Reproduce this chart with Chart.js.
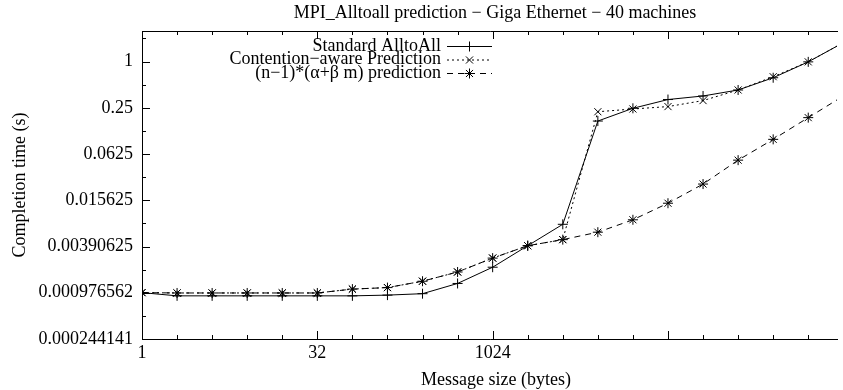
<!DOCTYPE html>
<html>
<head>
<meta charset="utf-8">
<script src="https://cdn.jsdelivr.net/npm/chart.js@4"></script>
<style>
  body { margin: 0; background: #fff; }
  canvas { display: block; }
</style>
</head>
<body>
<canvas id="chart" width="843" height="390"></canvas>
<script>
// ===================== DATA =====================
const sizes = [1, 2, 4, 8, 16, 32, 64, 128, 256, 512, 1024, 2048, 4096, 8192,
  16384, 32768, 65536, 131072, 262144, 524288, 1048576];

const standard = [0.00098, 0.00089, 0.00089, 0.00089, 0.00089, 0.00089, 0.00089,
  0.00091, 0.00095, 0.00129, 0.0021, 0.004, 0.0076, 0.168, 0.246, 0.32, 0.356,
  0.426, 0.615, 0.99, 1.76];

const contention = [0.00098, 0.00097, 0.00097, 0.00097, 0.00097, 0.00097, 0.00109,
  0.00114, 0.00138, 0.00182, 0.00276, 0.004, 0.0048, 0.222, 0.241, 0.259, 0.31,
  0.426, 0.634, 0.99, 1.76];

const prediction = [0.00098, 0.00097, 0.00097, 0.00097, 0.00097, 0.00097, 0.00109,
  0.00114, 0.00138, 0.00182, 0.00276, 0.004, 0.0048, 0.006, 0.0087, 0.0143, 0.0254,
  0.052, 0.097, 0.186, 0.356];

const seriesNames = ["Standard AlltoAll", "Contention\u2212aware Prediction",
  "(n\u22121)*(\u03b1+\u03b2 m) prediction"];

const xTicks = [1, 32, 1024];
const xTickLabels = ["1", "32", "1024"];
const yTicks = [0.000244140625, 0.0009765625, 0.00390625, 0.015625, 0.0625, 0.25, 1];
const yTickLabels = ["0.000244141", "0.000976562", "0.00390625", "0.015625",
  "0.0625", "0.25", "1"];

const TITLE = "MPI_Alltoall prediction \u2212 Giga Ethernet \u2212 40 machines";
const X_TITLE = "Message size (bytes)";
const Y_TITLE = "Completion time (s)";

const FONT = "Liberation Serif, DejaVu Serif, serif";

// ===================== HELPERS =====================
function toPoints(values) {
  return sizes.map((s, i) => ({ x: s, y: values[i] }));
}

// frame, inward ticks, title, axis titles and gnuplot-style legend
const decorations = {
  id: "decorations",
  afterDraw(chart) {
    const { ctx, chartArea: a, scales } = chart;
    const xs = scales.x, ys = scales.y;
    ctx.save();
    ctx.strokeStyle = "#000";
    ctx.lineWidth = 1;
    ctx.setLineDash([]);

    // frame (right side is cut off in the reference)
    ctx.beginPath();
    ctx.moveTo(a.right + 1, a.top + 0.5);
    ctx.lineTo(a.left + 0.5, a.top + 0.5);
    ctx.lineTo(a.left + 0.5, a.bottom + 0.5);
    ctx.lineTo(a.right + 1, a.bottom + 0.5);
    ctx.stroke();

    // x ticks at each doubling, major every 32x
    ctx.beginPath();
    for (let e = 0; e <= 20; e++) {
      const px = Math.round(xs.getPixelForValue(Math.pow(2, e))) + 0.5;
      if (px > a.right + 1) break;
      const len = e % 5 === 0 ? 8 : 4;
      ctx.moveTo(px, a.bottom);
      ctx.lineTo(px, a.bottom - len);
      ctx.moveTo(px, a.top);
      ctx.lineTo(px, a.top + len);
    }
    // y ticks at each doubling, major every 4x
    for (let e = -12; e <= 1; e++) {
      const py = Math.round(ys.getPixelForValue(Math.pow(2, e))) + 0.5;
      const len = e % 2 === 0 ? 8 : 4;
      ctx.moveTo(a.left, py);
      ctx.lineTo(a.left + len, py);
    }
    ctx.stroke();

    // titles
    ctx.fillStyle = "#000";
    ctx.font = "18px " + FONT;
    ctx.textAlign = "center";
    ctx.textBaseline = "middle";
    ctx.fillText(TITLE, 495, 13);
    ctx.fillText(X_TITLE, 496, 380);
    ctx.save();
    ctx.translate(20, (a.top + a.bottom) / 2);
    ctx.rotate(-Math.PI / 2);
    ctx.fillText(Y_TITLE, 0, 0);
    ctx.restore();

    // legend
    const rowY = [46, 59.5, 73];
    const sampleL = 447, sampleR = 492, textR = 441;
    chart.data.datasets.forEach((ds, i) => {
      const y = rowY[i];
      ctx.textAlign = "right";
      ctx.fillText(seriesNames[i], textR, y);
      ctx.beginPath();
      ctx.setLineDash(ds.borderDash || []);
      ctx.moveTo(sampleL, y + 0.5);
      ctx.lineTo(sampleR, y + 0.5);
      ctx.stroke();
      ctx.setLineDash([]);
      Chart.helpers.drawPoint(ctx, {
        pointStyle: ds.pointStyle,
        radius: ds.pointRadius,
        borderWidth: 1
      }, (sampleL + sampleR) / 2, y + 0.5);
    });
    ctx.restore();
  }
};

// ===================== CHART =====================
const ctx = document.getElementById("chart").getContext("2d");

new Chart(ctx, {
  type: "line",
  data: {
    datasets: [
      {
        label: seriesNames[0],
        data: toPoints(standard),
        borderColor: "#000",
        backgroundColor: "#000",
        borderWidth: 1,
        pointStyle: "cross",
        pointRadius: 5,
        pointBorderWidth: 1
      },
      {
        label: seriesNames[1],
        data: toPoints(contention),
        borderColor: "#000",
        backgroundColor: "#000",
        borderWidth: 1,
        borderDash: [2, 3],
        pointStyle: "crossRot",
        pointRadius: 5,
        pointBorderWidth: 1
      },
      {
        label: seriesNames[2],
        data: toPoints(prediction),
        borderColor: "#000",
        backgroundColor: "#000",
        borderWidth: 1,
        borderDash: [6, 5],
        pointStyle: "star",
        pointRadius: 5,
        pointBorderWidth: 1
      }
    ]
  },
  options: {
    responsive: false,
    animation: false,
    devicePixelRatio: 1,
    layout: { padding: { top: 31, right: 0, left: 0, bottom: 0 } },
    plugins: {
      legend: { display: false },
      tooltip: { enabled: false },
      title: { display: false }
    },
    scales: {
      x: {
        type: "logarithmic",
        min: 1,
        max: 925600,
        grid: { display: false, drawTicks: false },
        border: { display: false },
        afterBuildTicks: s => { s.ticks = xTicks.map(v => ({ value: v })); },
        afterFit: s => { s.height = 51; },
        ticks: {
          autoSkip: false,
          maxRotation: 0,
          padding: 3,
          color: "#000",
          font: { family: FONT, size: 18 },
          callback: (v, i) => xTickLabels[i]
        }
      },
      y: {
        type: "logarithmic",
        min: 0.000244140625,
        max: 2.497,
        grid: { display: false, drawTicks: false },
        border: { display: false },
        afterBuildTicks: s => { s.ticks = yTicks.map(v => ({ value: v })); },
        afterFit: s => { s.width = 142; },
        ticks: {
          autoSkip: false,
          padding: 9,
          color: "#000",
          font: { family: FONT, size: 18 },
          callback: (v, i) => yTickLabels[i]
        }
      }
    }
  },
  plugins: [decorations]
});
</script>
</body>
</html>
